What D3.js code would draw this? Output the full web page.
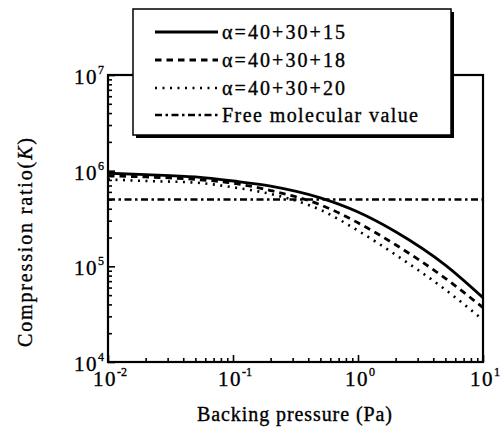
<!DOCTYPE html>
<html><head><meta charset="utf-8">
<script src="https://cdn.jsdelivr.net/npm/d3@7"></script>
<style>
body{margin:0;background:#fff;}
text{font-family:"Liberation Serif","Times New Roman",serif;fill:#000;stroke:#000;stroke-width:0.35px;}
</style></head><body>
<svg id="c" width="501" height="430"></svg>
<script>
const pressure = [0.01, 0.02, 0.05, 0.1, 0.2, 0.5, 1, 2, 5, 10];
const alpha15 = [9.4e5, 9.1e5, 8.6e5, 7.8e5, 6.9e5, 5.2e5, 3.7e5, 2.3e5, 1.03e5, 4.7e4];
const alpha18 = [8.8e5, 8.6e5, 8.1e5, 7.4e5, 6.2e5, 4.4e5, 2.85e5, 1.68e5, 7.5e4, 3.7e4];
const alpha20 = [8.1e5, 7.8e5, 7.5e5, 6.7e5, 5.7e5, 3.9e5, 2.36e5, 1.32e5, 5.7e4, 2.75e4];
const freeMolecular = [5e5, 5e5, 5e5, 5e5, 5e5, 5e5, 5e5, 5e5, 5e5, 5e5];
const seriesNames = ["\u03b1=40+30+15", "\u03b1=40+30+18", "\u03b1=40+30+20", "Free molecular value"];
const xTickExps = [-2, -1, 0, 1];
const yTickExps = [4, 5, 6, 7];
const xTitle = "Backing pressure (Pa)";
const yTitle = "Compression ratio";

const svg = d3.select("#c");
const L = 108, R = 483, T = 75, B = 362;
const x = d3.scaleLog().domain([0.01, 10]).range([L, R]);
const y = d3.scaleLog().domain([1e4, 1e7]).range([B, T]);

const styles = [
  {dash: null, w: 2.8},
  {dash: "6.5,5", w: 2.8},
  {dash: "2,5.5", w: 2.6},
  {dash: "7,3.5,2.5,3.5", w: 2.4}
];
const allSeries = [alpha15, alpha18, alpha20, freeMolecular];

// minor/major ticks (inward) on left and bottom
const isMajor = d => { const l = Math.log10(d); return Math.abs(l - Math.round(l)) < 1e-9; };
const gx = svg.append("g").attr("transform", `translate(0,${B})`)
  .call(d3.axisBottom(x).tickValues(x.ticks()).tickSize(-4).tickFormat(""));
gx.selectAll(".tick line").attr("stroke-width", 1.6).attr("y2", d => isMajor(d) ? -7 : -4);
gx.select(".domain").remove();
const gy = svg.append("g").attr("transform", `translate(${L},0)`)
  .call(d3.axisLeft(y).tickValues(y.ticks()).tickSize(-4).tickFormat(""));
gy.selectAll(".tick line").attr("stroke-width", 1.6).attr("x2", d => isMajor(d) ? 7 : 4);
gy.select(".domain").remove();

// clip for curves
svg.append("clipPath").attr("id", "pc").append("rect")
  .attr("x", L).attr("y", T).attr("width", R - L).attr("height", B - T);

const line = d3.line().x((d, i) => x(pressure[i])).y(d => y(d)).curve(d3.curveMonotoneX);
allSeries.forEach((s, k) => {
  svg.append("path").datum(s).attr("d", line).attr("fill", "none")
    .attr("stroke", "#000").attr("stroke-width", styles[k].w)
    .attr("stroke-dasharray", styles[k].dash)
    .attr("clip-path", "url(#pc)");
});

// frame
svg.append("rect").attr("x", L).attr("y", T).attr("width", R - L).attr("height", B - T)
  .attr("fill", "none").attr("stroke", "#000").attr("stroke-width", 2.2);

// tick labels
xTickExps.forEach(e => {
  const t = svg.append("text").attr("x", x(Math.pow(10, e)) + 2).attr("y", 386)
    .attr("text-anchor", "middle").attr("font-size", 21).attr("letter-spacing", 1.5);
  t.append("tspan").text("10");
  t.append("tspan").attr("dy", -10).attr("font-size", 12).attr("letter-spacing", 0).text(e);
});
yTickExps.forEach(e => {
  const t = svg.append("text").attr("x", 104).attr("y", y(Math.pow(10, e)) + 9)
    .attr("text-anchor", "end").attr("font-size", 21).attr("letter-spacing", 1.5);
  t.append("tspan").text("10");
  t.append("tspan").attr("dy", -10).attr("font-size", 12).attr("letter-spacing", 0).text(e);
});

// axis titles
svg.append("text").attr("x", 197).attr("y", 421)
  .attr("font-size", 20).attr("textLength", 195).attr("lengthAdjust", "spacing").text(xTitle);
const yt = svg.append("text").attr("transform", "translate(32,347) rotate(-90)")
  .attr("font-size", 20).attr("textLength", 209).attr("lengthAdjust", "spacing");
yt.append("tspan").text(yTitle + "(");
yt.append("tspan").attr("font-style", "italic").text("K");
yt.append("tspan").text(")");

// legend
const lx = 133, ly = 9, lw = 318, lh = 126;
svg.append("rect").attr("x", lx + 3).attr("y", ly + 3).attr("width", lw).attr("height", lh).attr("fill", "#000");
svg.append("rect").attr("x", lx).attr("y", ly).attr("width", lw).attr("height", lh)
  .attr("fill", "#fff").attr("stroke", "#000").attr("stroke-width", 1.5);
const rowY = [32, 60, 88, 115];
const textW = [123, 123, 123, 196];
seriesNames.forEach((n, k) => {
  svg.append("line").attr("x1", 155).attr("x2", 218).attr("y1", rowY[k]).attr("y2", rowY[k])
    .attr("stroke", "#000").attr("stroke-width", styles[k].w)
    .attr("stroke-dasharray", styles[k].dash);
  svg.append("text").attr("x", 222).attr("y", rowY[k] + 7).attr("font-size", 20)
    .attr("textLength", textW[k]).attr("lengthAdjust", "spacing").text(n);
});
</script></body></html>
